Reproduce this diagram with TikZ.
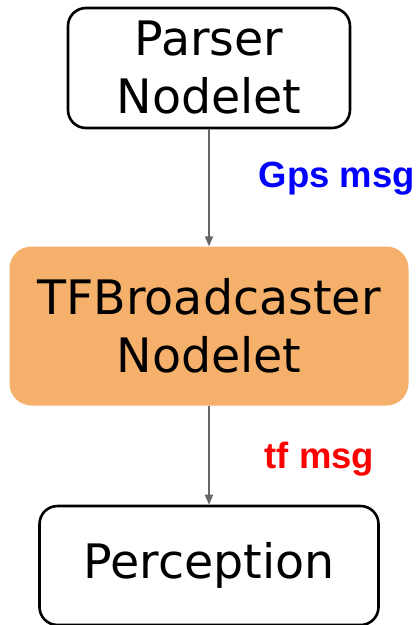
\documentclass[tikz,border=0pt]{standalone}
\usepackage{fontspec}
\setmainfont{DejaVu Sans}
\newfontfamily\labelfont{Liberation Sans}
\usetikzlibrary{positioning,arrows.meta}
\definecolor{nodeorange}{HTML}{F5B06B}
\definecolor{arrowgray}{HTML}{666666}
\tikzset{
  nodebox/.style={draw=black,line width=2.6pt,rounded corners=18pt,align=center,
    inner sep=0pt,font=\fontsize{47.5}{58}\selectfont},
  mainbox/.style={fill=nodeorange,rounded corners=22pt,align=center,
    inner sep=0pt,font=\fontsize{47.5}{58}\selectfont},
  flow/.style={draw=arrowgray,line width=1.6pt,-{Triangle[width=8pt,length=10pt]}},
  msg/.style={font=\labelfont\bfseries\fontsize{36.5}{40}\selectfont,inner sep=0pt,anchor=west}
}
\begin{document}
\begin{tikzpicture}
\useasboundingbox (0,0) rectangle (417pt,-625pt);
\node[nodebox,minimum width=282pt,minimum height=120pt] (parser) at (209pt,-68pt) {Parser\\Nodelet};
\node[mainbox,minimum width=399pt,minimum height=159pt,below=117pt of parser] (tfbroad) {TFBroadcaster\\Nodelet};
\node[nodebox,minimum width=339pt,minimum height=119pt,below=99pt of tfbroad] (percep) {Perception};
\draw[flow] (parser) -- node[msg,text=blue,pos=0.42,xshift=49pt] (gpsmsg) {Gps msg} (tfbroad);
\draw[flow] (tfbroad) -- node[msg,text=red,pos=0.535,xshift=55pt] (tfmsg) {tf msg} (percep);
\end{tikzpicture}
\end{document}
